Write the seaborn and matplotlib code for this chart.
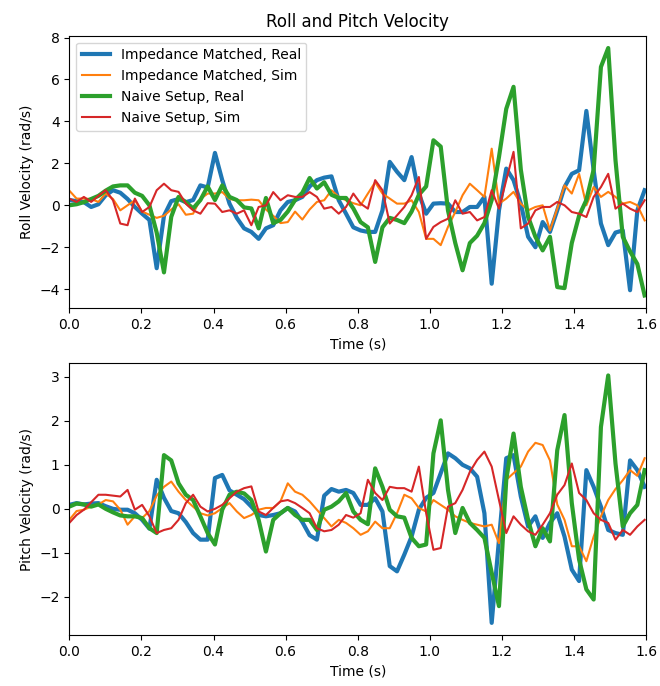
import numpy as np
import matplotlib
matplotlib.use("Agg")
import matplotlib.pyplot as plt
import seaborn as sns

# sample clock of the logged data (~49.5 Hz)
dt = 0.0202
time_s = np.arange(80) * dt

# roll velocity (rad/s)
roll_im_real = [0.25, 0.2, 0.15, -0.08, 0.05, 0.48, 0.72, 0.6, 0.3, -0.08,
                -0.4, -0.7, -3.0, -0.5, 0.2, 0.3, 0.15, 0.25, 0.95, 0.85,
                2.5, 1.2, 0.08, -0.6, -1.1, -1.27, -1.6, -1.1, -0.95, -0.24,
                0.16, 0.24, 0.4, 0.9, 1.2, 1.32, 1.38, 0.24, -0.4, -1.05,
                -1.2, -1.27, -1.27, -0.24, 2.07, 1.6, 1.2, 2.3, 0.56, -0.4,
                0.08, 0.1, 0.08, -0.32, -0.32, -0.08, -0.08, 0.4, -3.74, -0.24,
                1.75, 1.2, 0.08, -1.5, -2.0, -0.8, -1.27, -0.24, 0.87, 1.5,
                1.67, 4.5, 1.67, -0.87, -1.9, -1.3, -1.2, -4.05, -0.24, 0.72]
roll_im_sim = [0.7, 0.32, 0.32, 0.3, 0.16, 0.56, 0.3, -0.24, 0.0, 0.24,
               -0.3, -0.45, -0.6, -0.5, -0.2, 0.05, -0.45, -0.4, 0.3, 0.56,
               0.56, 0.63, 0.3, 0.24, 0.24, 0.27, 0.24, -0.2, -0.5, -0.85,
               -0.8, -0.3, -0.68, -0.2, 0.16, 0.24, 0.72, 0.4, 0.24, 0.1,
               0.0, 0.56, 1.1, 0.56, 0.32, 0.08, 0.08, 0.24, -0.32, -1.6,
               -1.6, -1.9, -1.03, -0.32, 0.48, 1.03, 0.72, 0.4, 2.7, 0.08,
               0.32, 0.64, 0.08, -0.24, -0.08, 0.0, -1.2, -0.16, 0.95, 0.56,
               1.5, 0.0, 0.87, 0.4, 0.64, 0.4, 0.08, 0.16, 0.0, -0.72]
roll_ns_real = [0.0, 0.05, 0.15, 0.3, 0.45, 0.7, 0.9, 0.95, 0.95, 0.6,
                0.45, 0.0, -1.3, -3.2, -0.55, 0.4, 0.15, -0.15, 0.25, 0.9,
                0.25, 0.95, 0.4, 0.25, -0.1, -0.15, -1.1, 0.35, -0.85, -0.7,
                -0.3, 0.25, 0.6, 1.3, 0.8, 1.1, 0.5, 0.35, 0.35, -0.15,
                -0.8, -1.05, -2.7, -1.05, -0.6, -0.7, -0.85, -0.3, 0.5, 0.9,
                3.1, 2.8, -0.25, -1.8, -3.1, -1.8, -1.45, -0.85, 0.25, 2.3,
                4.6, 5.65, 1.7, -0.55, -1.5, -2.15, -1.5, -3.9, -3.95, -1.8,
                -0.5, 0.25, 1.7, 6.6, 7.5, 2.15, -1.5, -2.2, -2.8, -4.3]
roll_ns_sim = [0.32, 0.16, 0.4, 0.16, 0.45, 0.72, 0.24, -0.87, -0.95, 0.32,
               -0.32, -0.08, 0.72, 1.03, 0.72, 0.64, 0.08, -0.24, -0.4, 0.1,
               0.08, -0.32, -0.24, -0.4, -0.24, -0.95, -0.08, 0.0, 0.63, 0.24,
               0.48, 0.4, 0.4, 0.63, 0.4, -0.16, -0.08, -0.4, -0.08, 0.56,
               0.08, -0.16, 1.2, 0.72, -0.87, -0.48, -0.08, 0.48, 1.35, -1.6,
               -1.03, -0.8, -0.64, 0.24, -0.4, -0.32, -0.72, -0.56, 0.72, -0.16,
               1.2, 2.55, -1.1, -0.87, -0.24, -0.08, -0.08, 0.16, 0.0, -0.32,
               -0.4, -0.56, 0.4, 0.87, 1.5, -0.16, 0.08, -0.16, -0.32, 0.24]

# pitch velocity (rad/s)
pitch_im_real = [0.09, 0.13, 0.1, 0.12, 0.13, 0.06, 0.0, -0.02, -0.02, -0.1,
                 -0.25, -0.45, 0.66, 0.25, -0.05, -0.1, -0.3, -0.55, -0.7, -0.7,
                 0.7, 0.77, 0.42, 0.32, 0.22, 0.05, -0.14, -0.17, -0.14, -0.1,
                 0.02, -0.06, -0.3, -0.6, -0.7, 0.3, 0.45, 0.39, 0.43, 0.36,
                 0.09, 0.09, 0.24, -0.06, -1.3, -1.42, -1.04, -0.63, -0.02, 0.25,
                 0.36, 0.81, 1.26, 1.15, 1.0, 0.92, 0.73, -0.1, -2.59, -0.7,
                 1.15, 1.22, 0.28, -0.4, -0.17, -0.66, -0.32, -0.1, -0.63, -1.38,
                 -1.64, 0.88, 0.5, 0.05, -0.48, -0.55, -0.59, 1.1, 0.88, 0.5]
pitch_im_sim = [-0.25, -0.05, -0.02, 0.05, 0.1, 0.2, 0.17, -0.02, -0.36, -0.17,
                -0.21, -0.05, 0.3, 0.5, 0.62, 0.39, 0.2, 0.05, -0.1, -0.15,
                -0.1, 0.02, 0.13, -0.06, -0.21, -0.14, -0.02, 0.02, 0.02, 0.17,
                0.58, 0.39, 0.32, 0.17, -0.02, -0.21, -0.4, -0.25, -0.32, -0.44,
                -0.59, -0.51, -0.29, -0.44, -0.44, -0.1, 0.32, 0.24, 0.02, -0.06,
                0.2, 0.09, -0.02, -0.17, -0.25, -0.32, -0.36, -0.4, -0.36, -0.78,
                0.66, 0.81, 0.96, 1.3, 1.5, 1.45, 1.1, 0.1, -0.25, -0.85,
                -0.85, -1.19, -0.63, -0.17, 0.2, 0.45, 0.65, 0.88, 0.75, 1.15]
pitch_ns_real = [0.05, 0.12, 0.1, 0.05, 0.1, 0.0, -0.08, -0.15, -0.17, -0.17,
                 -0.21, -0.44, -0.55, 1.22, 1.1, 0.58, 0.32, 0.2, -0.17, -0.55,
                 -0.81, -0.02, 0.32, 0.39, 0.35, 0.2, -0.25, -0.97, -0.25, -0.1,
                 0.02, -0.14, -0.25, -0.25, -0.48, -0.02, 0.05, 0.17, 0.36, -0.06,
                 -0.25, -0.35, 0.92, 0.5, -0.02, -0.17, -0.2, -0.66, -0.85, -0.81,
                 1.26, 2.01, 0.43, -0.55, 0.02, -0.32, -0.48, -0.66, -1.45, -2.21,
                 0.66, 1.71, 0.5, -0.25, -0.85, -0.44, -0.74, 1.33, 2.13, 0.13,
                 -1.15, -1.83, -2.06, 1.86, 3.03, 1.03, -0.4, -0.1, 0.09, 0.88]
pitch_ns_sim = [-0.32, -0.14, -0.02, 0.15, 0.32, 0.32, 0.3, 0.28, 0.43, -0.02,
                0.09, -0.17, -0.55, -0.48, -0.44, -0.25, 0.13, 0.32, 0.05, -0.06,
                0.0, 0.09, 0.24, 0.39, 0.47, 0.51, -0.06, -0.14, 0.02, 0.17,
                0.2, 0.13, 0.02, -0.1, -0.44, -0.51, -0.48, -0.36, -0.14, -0.2,
                -0.1, 0.66, 0.36, 0.2, 0.5, 0.47, 0.47, 0.39, 0.96, -0.1,
                -0.93, -0.89, 0.05, 0.13, 0.43, 0.84, 1.11, 1.3, 0.96, 0.2,
                -0.55, -0.17, -0.36, -0.51, -0.59, -0.36, -0.1, 0.32, 0.54, 1.03,
                0.36, 0.2, -0.1, -0.25, -0.32, -0.7, -0.48, -0.59, -0.4, -0.25]

labels = ["Impedance Matched, Real", "Impedance Matched, Sim",
          "Naive Setup, Real", "Naive Setup, Sim"]
colors = ["#1f77b4", "#ff7f0e", "#2ca02c", "#d62728"]
widths = [3, 1.5, 3, 1.5]

fig, axes = plt.subplots(2, 1, figsize=(6.6, 6.86), dpi=100)
fig.subplots_adjust(left=0.105, right=0.979, top=0.948, bottom=0.074, hspace=0.203)

roll = [roll_im_real, roll_im_sim, roll_ns_real, roll_ns_sim]
pitch = [pitch_im_real, pitch_im_sim, pitch_ns_real, pitch_ns_sim]

for vals, lab, c, lw in zip(roll, labels, colors, widths):
    sns.lineplot(x=time_s, y=vals, ax=axes[0], color=c, linewidth=lw, label=lab)
for vals, c, lw in zip(pitch, colors, widths):
    sns.lineplot(x=time_s, y=vals, ax=axes[1], color=c, linewidth=lw)

axes[0].set_title("Roll and Pitch Velocity")
axes[0].set_ylabel("Roll Velocity (rad/s)")
axes[1].set_ylabel("Pitch Velocity (rad/s)")
for ax in axes:
    ax.set_xlabel("Time (s)")
    ax.set_xlim(0, 1.6)
axes[0].legend(loc="upper left")

plt.savefig("out.png", dpi=100)
